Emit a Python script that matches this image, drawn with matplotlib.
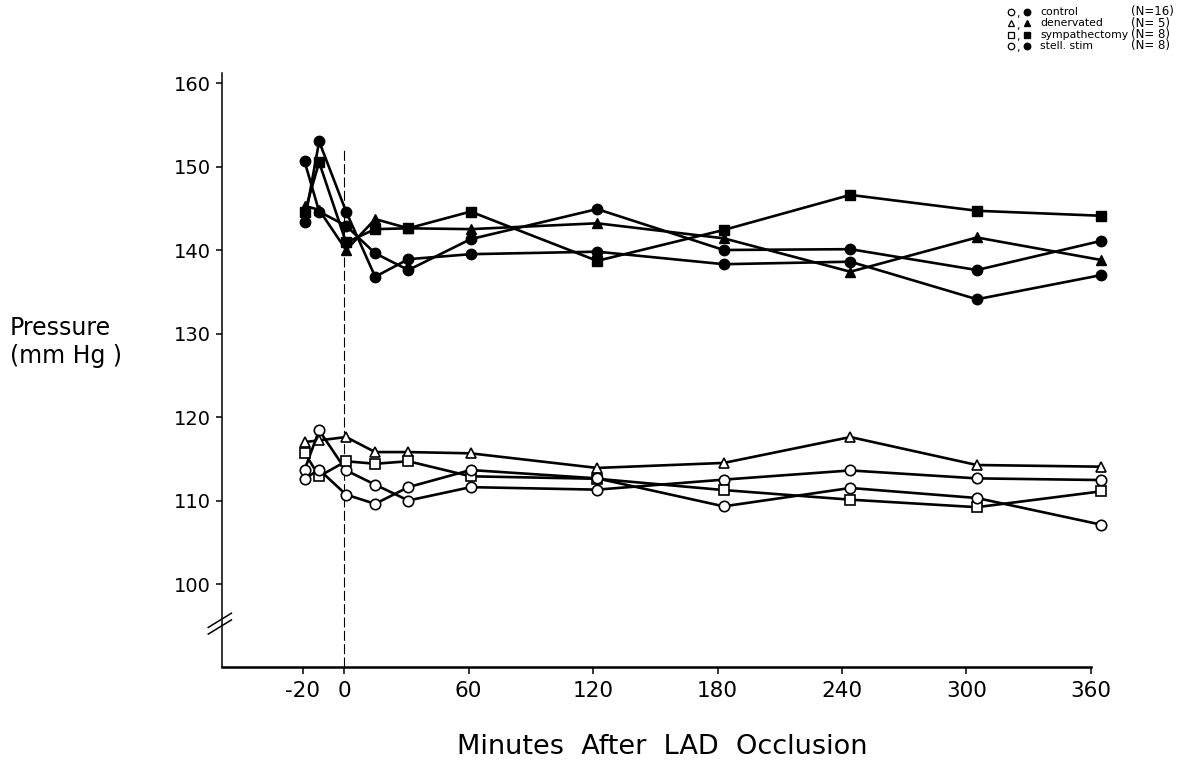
import matplotlib
matplotlib.use('Agg')
import matplotlib.pyplot as plt
from matplotlib.lines import Line2D

# minutes after LAD occlusion at which pressure was sampled
minutes = [-19, -12, 1, 15, 31, 61, 122, 183, 244, 305, 365]

# upper pressure curves (filled symbols), mm Hg
controlUpper = [143.4, 153.0, 144.6, 136.8, 138.9, 139.5, 139.8, 138.3, 138.6, 134.1, 137.0]
denervatedUpper = [145.3, 144.8, 140.0, 143.7, 142.6, 142.5, 143.2, 141.4, 137.4, 141.5, 138.8]
sympathectomyUpper = [144.5, 150.5, 140.9, 142.5, 142.6, 144.6, 138.7, 142.4, 146.6, 144.7, 144.1]
stellStimUpper = [150.6, 144.6, 142.9, 139.6, 137.6, 141.3, 144.9, 140.0, 140.1, 137.6, 141.1]

# lower pressure curves (open symbols), mm Hg
controlLower = [113.7, 118.4, 113.6, 111.9, 110.0, 111.6, 111.3, 112.5, 113.6, 112.65, 112.45]
denervatedLower = [117.0, 117.2, 117.6, 115.8, 115.8, 115.65, 113.9, 114.5, 117.6, 114.25, 114.05]
sympathectomyLower = [115.7, 112.9, 114.7, 114.4, 114.7, 112.9, 112.6, 111.25, 110.1, 109.2, 111.1]
stellStimLower = [112.6, 113.7, 110.7, 109.6, 111.6, 113.65, 112.65, 109.3, 111.5, 110.3, 107.1]

groupNames = ['control', 'denervated', 'sympathectomy', 'stell. stim']
groupCounts = ['(N=16)', '(N= 5)', '(N= 8)', '(N= 8)']
groupMarkers = ['o', '^', 's', 'o']
markerSizes = {'o': 7.5, '^': 7.5, 's': 6.5}

xTicks = [-20, 0, 60, 120, 180, 240, 300, 360]
yTicks = [100, 110, 120, 130, 140, 150, 160]

plt.rcParams['font.family'] = ['DejaVu Sans']
plt.rcParams['axes.unicode_minus'] = False

W, H = 1181, 768
fig = plt.figure(figsize=(W / 100, H / 100), dpi=100)
ax = fig.add_axes([0.18765, 0.13086, 0.7537, 0.7828])
ax.set_xlim(-59, 370)
ax.set_ylim(90, 162)

upperCurves = [controlUpper, denervatedUpper, sympathectomyUpper, stellStimUpper]
lowerCurves = [controlLower, denervatedLower, sympathectomyLower, stellStimLower]

for upper, lower, mk in zip(upperCurves, lowerCurves, groupMarkers):
    ax.plot(minutes, upper, color='black', lw=1.9, marker=mk, ms=markerSizes[mk],
            mfc='black', mec='black', clip_on=False, zorder=3)
    ax.plot(minutes, lower, color='black', lw=1.9, marker=mk, ms=markerSizes[mk],
            mfc='white', mec='black', mew=1.2, clip_on=False, zorder=3)

# occlusion time marker
ax.plot([0, 0], [90, 152], color='black', lw=0.8, dashes=(9, 3), zorder=1)

# axes
for side in ['top', 'right']:
    ax.spines[side].set_visible(False)
ax.spines['left'].set_bounds(90, 161.2)
ax.spines['bottom'].set_bounds(-59, 360)
ax.spines['left'].set_linewidth(1.1)
ax.spines['bottom'].set_linewidth(1.8)
ax.set_xticks(xTicks)
ax.set_yticks(yTicks)
ax.tick_params(axis='y', length=4.5, width=1.1, pad=3, labelsize=14)
ax.tick_params(axis='x', length=5, width=1.1, pad=5, labelsize=15.5)

# axis break on the pressure scale
brk = ax.get_yaxis_transform()
for y0 in [94.0, 94.8]:
    ax.plot([-0.015, 0.011], [y0, y0 + 1.7], color='black', lw=1.1,
            transform=brk, clip_on=False)

fig.text(10 / W, 1 - 328 / H, 'Pressure', fontsize=17, va='center', ha='left')
fig.text(10 / W, 1 - 356 / H, '(mm Hg )', fontsize=17, va='center', ha='left')
fig.text(662 / W, 1 - 747 / H, 'Minutes  After  LAD  Occlusion', fontsize=19.5,
         va='center', ha='center')

# legend block
for i, (name, count, mk) in enumerate(zip(groupNames, groupCounts, groupMarkers)):
    y = 1 - (12 + i * 11.3) / H
    ms = markerSizes[mk] * 0.62
    fig.add_artist(Line2D([1011 / W], [y], marker=mk, ms=ms, mfc='white',
                          mec='black', mew=0.9, transform=fig.transFigure))
    fig.add_artist(Line2D([1027 / W], [y], marker=mk, ms=ms, mfc='black',
                          mec='black', transform=fig.transFigure))
    fig.text(1018 / W, y - 0.003, ',', fontsize=8, va='center', ha='center')
    fig.text(1040 / W, y, name, fontsize=7.8, va='center', ha='left')
    fig.text(1131 / W, y, count, fontsize=8.5, va='center', ha='left')

fig.savefig('out.png', dpi=100)
